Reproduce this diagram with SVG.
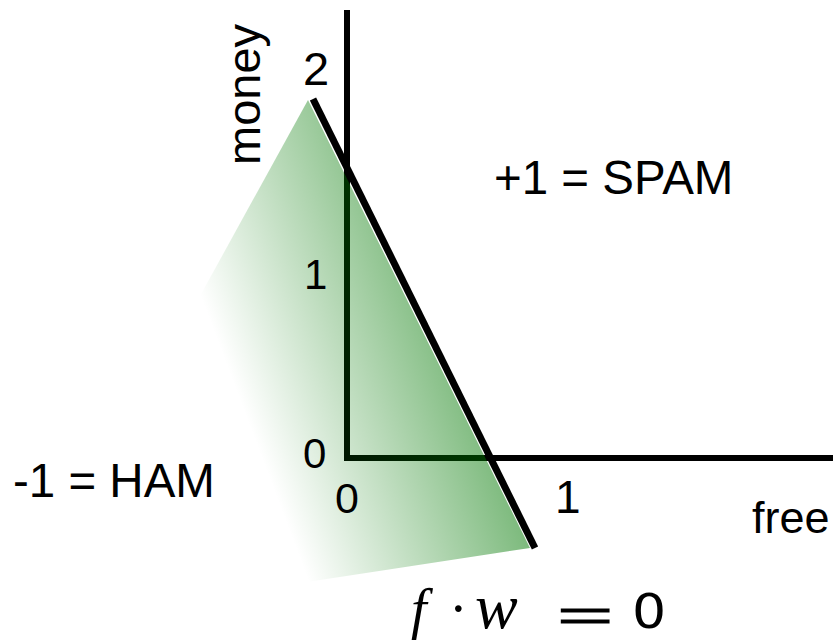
<svg xmlns="http://www.w3.org/2000/svg" width="833" height="641" viewBox="0 0 833 641">
<style>
.t{font-family:"Liberation Sans",Arial,sans-serif;fill:#000}
.ax{stroke:#000;stroke-width:6;fill:none;stroke-linecap:butt}
.m{font-family:"Liberation Serif","Times New Roman",serif;fill:#000}
.d{font-family:"DejaVu Sans",sans-serif;fill:#000}
</style>
<defs>
<linearGradient id="g" gradientUnits="userSpaceOnUse" x1="200" y1="295" x2="409" y2="216">
<stop offset="0" stop-color="#007800" stop-opacity="0"/>
<stop offset="1" stop-color="#007800" stop-opacity="0.52"/>
</linearGradient>
</defs>
<rect width="833" height="641" fill="#fff"/>
<g id="axes">
<path class="ax" d="M347 10 V458 H833"/>
</g>
<g id="region">
<polygon points="308,100 200,296 307,582 530,548" fill="url(#g)"/>
</g>
<g id="connectors">
<line x1="313" y1="99" x2="535" y2="548" stroke="#000" stroke-width="7"/>
</g>
<g id="labels">
<text class="t" transform="translate(260,165) rotate(-90)" font-size="47">money</text>
<text class="t" x="303" y="85" font-size="47">2</text>
<text class="t" x="304" y="289" font-size="42">1</text>
<text class="t" x="303" y="468" font-size="42">0</text>
<text class="t" x="335" y="513" font-size="43">0</text>
<text class="t" x="555" y="513" font-size="46">1</text>
<text class="t" x="752" y="533" font-size="45">free</text>
<text class="t" x="494" y="194" font-size="47.5">+1 = SPAM</text>
<text class="t" x="13" y="497" font-size="47.5">-1 = HAM</text>
</g>
<g id="equation">
<text class="m" y="628" font-size="56"><tspan x="411" font-style="italic">f</tspan><tspan x="449">·</tspan><tspan x="475" font-style="italic" font-size="64">w</tspan></text>
<text class="t" transform="translate(557,630) scale(2.3,1)" font-size="42" stroke="#000" stroke-width="0.8">=</text>
<text class="d" transform="translate(632,628) scale(1.12,1)" font-size="48">0</text>
</g>
</svg>
